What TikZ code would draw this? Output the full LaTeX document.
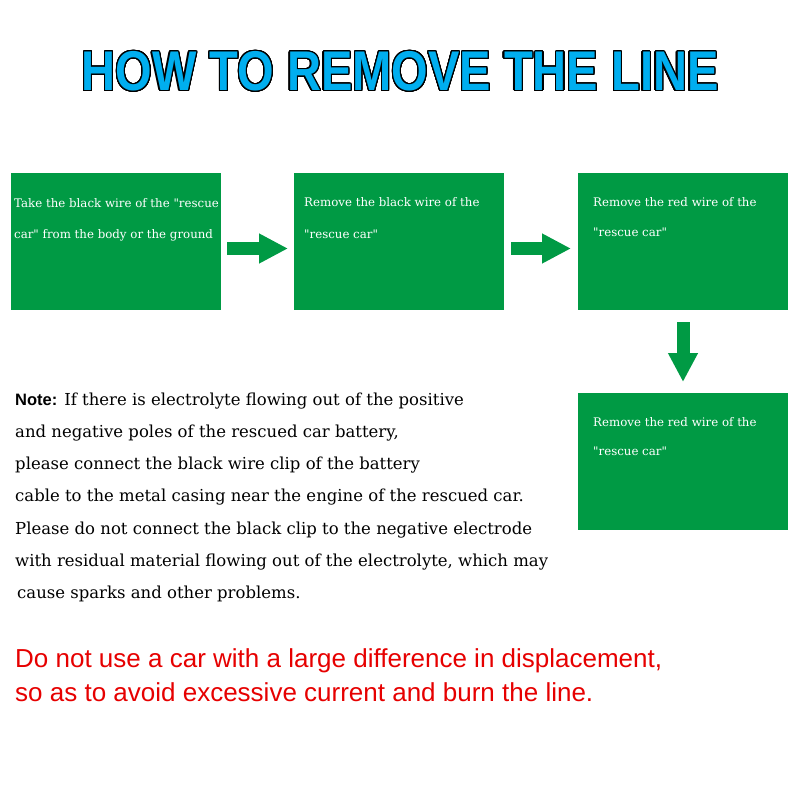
\documentclass[tikz,border=0pt]{standalone}
\usepackage{fontspec}
\setmainfont{DejaVu Serif}
\newfontfamily\headfont{Liberation Sans}
\usepackage{contour}
\usetikzlibrary{arrows.meta,positioning}
\definecolor{StepGreen}{RGB}{0,154,68}
\definecolor{TitleCyan}{RGB}{0,174,239}
\definecolor{WarnRed}{RGB}{230,0,0}
\newcommand{\dq}{\XeTeXglyph\XeTeXcharglyph"22\relax}
\contourlength{1.4pt}
\contournumber{32}
\tikzset{
    stepbox/.style={fill=StepGreen, rectangle, minimum width=210pt,
                    minimum height=137pt, inner sep=0pt, outer sep=0pt},
    steptext/.style={text=white, anchor=base west, inner sep=0pt,
                     font=\fontsize{11.8}{13}\selectfont},
    notetext/.style={anchor=base west, inner sep=0pt,
                     font=\fontsize{16.5}{19}\selectfont},
    warntext/.style={text=WarnRed, anchor=base west, inner sep=0pt,
                     font=\headfont\fontsize{26}{30}\selectfont},
    % Arrow styles
    flow/.style={StepGreen, line width=13pt,
                 -{Triangle[length=29pt,width=28pt]}}
}

\begin{document}
\begin{tikzpicture}[x=1pt, y=-1pt]
    \useasboundingbox (0,0) rectangle (800,800);

    % Title
    \node[text=TitleCyan, font=\headfont\bfseries\fontsize{56}{60}\selectfont,
          inner sep=0pt] (title) at (400,72)
          {\scalebox{0.84}[1]{\contour{black}{HOW TO REMOVE THE LINE}}};

    % Step boxes
    \node[stepbox, anchor=north west] (takeblack) at (11,173) {};
    \node[stepbox, right=73pt of takeblack] (removeblack) {};
    \node[stepbox, right=74pt of removeblack] (removered) {};
    \node[stepbox, below=83pt of removered] (removered2) {};

    % Box texts
    \node[steptext] (takeblack-a) at ([xshift=3pt,yshift=-34pt]takeblack.north west)
        {Take the black wire of the \dq rescue};
    \node[steptext] (takeblack-b) at ([yshift=-31pt]takeblack-a.base west)
        {car\dq{} from the body or the ground};
    \node[steptext] (removeblack-a) at ([xshift=10pt,yshift=-33pt]removeblack.north west)
        {Remove the black wire of the};
    \node[steptext] (removeblack-b) at ([yshift=-32pt]removeblack-a.base west)
        {\dq rescue car\dq};
    \node[steptext] (removered-a) at ([xshift=15pt,yshift=-33pt]removered.north west)
        {Remove the red wire of the};
    \node[steptext] (removered-b) at ([yshift=-30pt]removered-a.base west)
        {\dq rescue car\dq};
    \node[steptext] (removered2-a) at ([xshift=15pt,yshift=-33pt]removered2.north west)
        {Remove the red wire of the};
    \node[steptext] (removered2-b) at ([yshift=-29pt]removered2-a.base west)
        {\dq rescue car\dq};

    % Flow arrows
    \draw[flow] ([xshift=6pt,yshift=-7pt]takeblack.east)
        -- ([xshift=-6pt,yshift=-7pt]removeblack.west);
    \draw[flow] ([xshift=7pt,yshift=-7pt]removeblack.east)
        -- ([xshift=-7pt,yshift=-7pt]removered.west);
    \draw[flow] ([yshift=-12pt]removered.south)
        -- ([yshift=11pt]removered2.north);

    % Note
    \node[notetext] (note1) at (15,405)
        {{\headfont\bfseries Note:} If there is electrolyte flowing out of the positive};
    \node[notetext] (note2) at (15,437) {and negative poles of the rescued car battery,};
    \node[notetext] (note3) at (15,469) {please connect the black wire clip of the battery};
    \node[notetext] (note4) at (15,501) {cable to the metal casing near the engine of the rescued car.};
    \node[notetext] (note5) at (15,534) {Please do not connect the black clip to the negative electrode};
    \node[notetext] (note6) at (15,566) {with residual material flowing out of the electrolyte, which may};
    \node[notetext] (note7) at (17,598) {cause sparks and other problems.};

    % Warning
    \node[warntext] (warn1) at (15,667)
        {Do not use a car with a large difference in displacement,};
    \node[warntext] (warn2) at (15,701)
        {so as to avoid excessive current and burn the line.};
\end{tikzpicture}
\end{document}
